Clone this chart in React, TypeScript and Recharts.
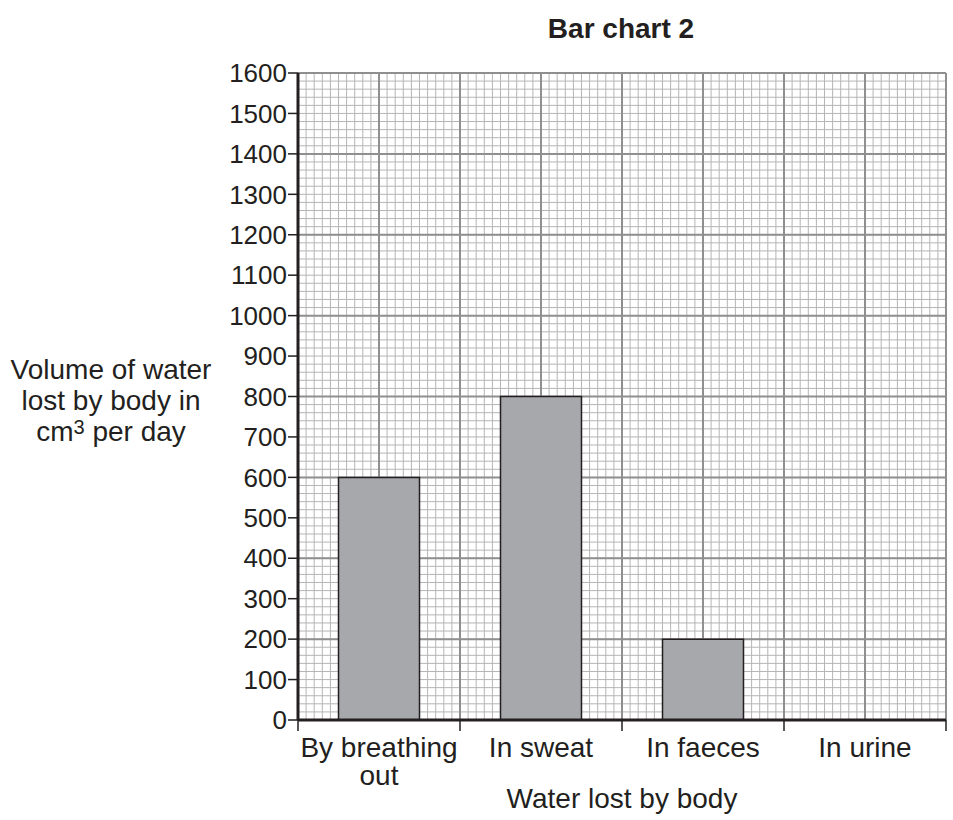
import { BarChart, Bar, XAxis, YAxis, CartesianGrid } from "recharts";

// water lost by body, cm3 per day (nothing drawn for urine)
const categories = ["By breathing out", "In sweat", "In faeces", "In urine"];
const volumes: (number | null)[] = [600, 800, 200, null];
const yTicks = [0, 100, 200, 300, 400, 500, 600, 700, 800, 900, 1000, 1100, 1200, 1300, 1400, 1500, 1600];

const Y_MAX = 1600;
const INK = "#231f20";
const FONT = "'Liberation Sans', Arial, Helvetica, sans-serif";

const data = categories.map((name, i) => ({ name, volume: volumes[i] }));

// graph paper: minor every 20 units / 1/20 category, major every 200 units / half category
const minorY = Array.from({ length: Y_MAX / 20 + 1 }, (_, i) => i * 20);
const majorY = Array.from({ length: Y_MAX / 200 + 1 }, (_, i) => i * 200);
const minorXFrac = Array.from({ length: categories.length * 20 + 1 }, (_, i) => i / (categories.length * 20));
const majorXFrac = Array.from({ length: categories.length * 2 + 1 }, (_, i) => i / (categories.length * 2));

const yCoords = (values: number[]) => (props: any) => {
  const scale = props?.yAxis?.scale;
  const off = props.offset;
  return values.map((v) =>
    typeof scale === "function" ? scale(v) : off.top + off.height * (1 - v / Y_MAX),
  );
};

const xCoords = (fracs: number[]) => (props: any) => {
  const off = props.offset;
  return fracs.map((f) => off.left + off.width * f);
};

const wrap = (s: string) => {
  if (s.length <= 12) return [s];
  const cut = s.lastIndexOf(" ");
  return [s.slice(0, cut), s.slice(cut + 1)];
};

const CategoryTick = (props: any) => {
  const { x, y, payload, index, visibleTicksCount } = props;
  const half = payload?.offset ?? 81;
  const lines = wrap(String(payload.value));
  const last = index === (visibleTicksCount ?? categories.length) - 1;
  return (
    <g>
      <line x1={x - half} x2={x - half} y1={y} y2={y + 11} stroke={INK} strokeWidth={1.5} />
      {last && <line x1={x + half} x2={x + half} y1={y} y2={y + 11} stroke={INK} strokeWidth={1.5} />}
      {lines.map((l, i) => (
        <text
          key={i}
          x={x}
          y={y + 37 + i * 28}
          textAnchor="middle"
          fontSize={28}
          fontFamily={FONT}
          fill={INK}
        >
          {l}
        </text>
      ))}
    </g>
  );
};

export default function App() {
  return (
    <div style={{ position: "absolute", left: 0, top: 0, width: 953, height: 820, background: "#fff" }}>
      <BarChart
        width={953}
        height={820}
        data={data}
        margin={{ top: 73, right: 7, left: 0, bottom: 0 }}
        barCategoryGap="25%"
      >
        <CartesianGrid
          stroke="#b5b5b5"
          strokeWidth={1}
          horizontalCoordinatesGenerator={yCoords(minorY)}
          verticalCoordinatesGenerator={xCoords(minorXFrac)}
        />
        <CartesianGrid
          stroke="#8f8f8f"
          strokeWidth={2}
          horizontalCoordinatesGenerator={yCoords(majorY)}
          verticalCoordinatesGenerator={xCoords(majorXFrac)}
        />
        <XAxis
          dataKey="name"
          height={100}
          interval={0}
          tickSize={0}
          tickMargin={0}
          tickLine={false}
          axisLine={{ stroke: INK, strokeWidth: 3 }}
          tick={<CategoryTick />}
        />
        <YAxis
          type="number"
          domain={[0, Y_MAX]}
          ticks={yTicks}
          interval={0}
          width={298}
          tickSize={10}
          tickMargin={1}
          allowDataOverflow
          axisLine={{ stroke: INK, strokeWidth: 3 }}
          tickLine={{ stroke: INK, strokeWidth: 1.5 }}
          tick={{ fontSize: 26, fill: INK, fontFamily: FONT }}
        />
        <Bar
          dataKey="volume"
          fill="#a7a8ab"
          stroke={INK}
          strokeWidth={1.5}
          isAnimationActive={false}
        />
      </BarChart>

      <div
        style={{
          position: "absolute",
          left: 421,
          top: 13,
          width: 400,
          textAlign: "center",
          fontFamily: FONT,
          fontWeight: "bold",
          fontSize: 28,
          lineHeight: "32px",
          color: INK,
        }}
      >
        Bar chart 2
      </div>

      <div
        style={{
          position: "absolute",
          left: 0,
          top: 354,
          width: 222,
          textAlign: "center",
          fontFamily: FONT,
          fontSize: 28,
          lineHeight: "31px",
          color: INK,
        }}
      >
        Volume of water
        <br />
        lost by body in
        <br />
        cm<sup style={{ fontSize: 20, verticalAlign: "7px", lineHeight: 0 }}>3</sup> per day
      </div>

      <div
        style={{
          position: "absolute",
          left: 422,
          top: 782,
          width: 400,
          textAlign: "center",
          fontFamily: FONT,
          fontSize: 28,
          lineHeight: "34px",
          color: INK,
        }}
      >
        Water lost by body
      </div>
    </div>
  );
}
